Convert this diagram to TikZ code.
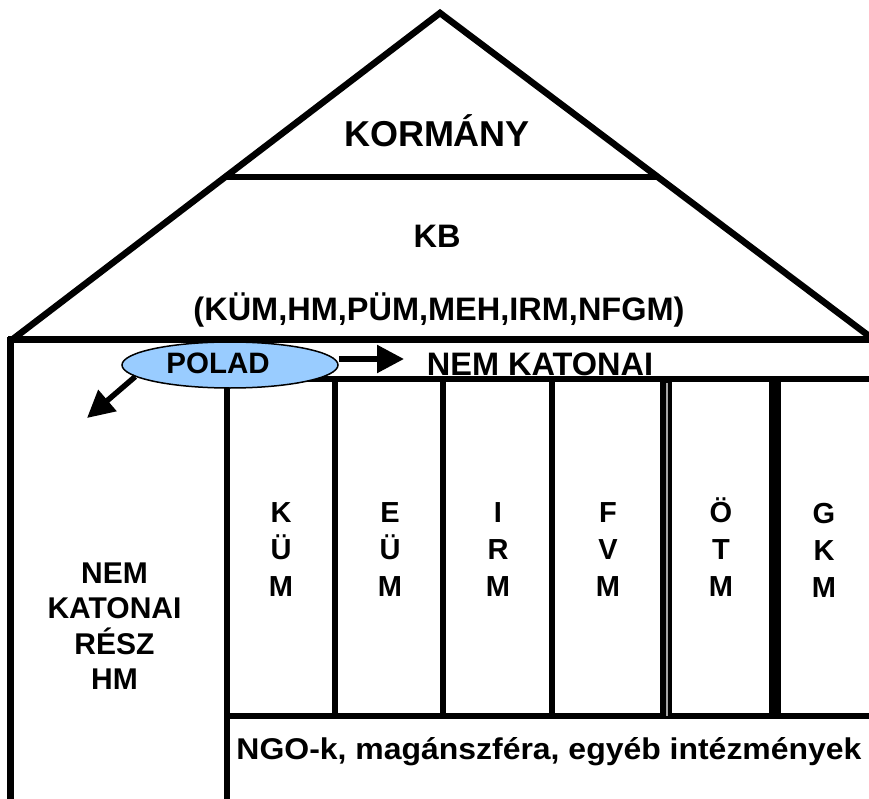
\documentclass[tikz,border=0pt]{standalone}
\usepackage{fontspec}
\setmainfont{Liberation Sans}
\usetikzlibrary{arrows.meta,shapes.geometric}
\definecolor{poladblue}{RGB}{153,204,255}
\begin{document}
\begin{tikzpicture}[x=1pt,y=-1pt,
  wall/.style={line width=6.5pt},
  part/.style={line width=6pt},
  heavy/.style={line width=12pt},
  bigtxt/.style={font=\fontsize{36}{40}\selectfont\bfseries, inner sep=0pt},
  midtxt/.style={font=\fontsize{32.5}{36}\selectfont\bfseries, inner sep=0pt},
  coltxt/.style={font=\fontsize{29}{37}\selectfont\bfseries, inner sep=0pt, align=center},
  sidetxt/.style={font=\fontsize{30}{35.5}\selectfont\bfseries, inner sep=0pt, align=center},
  ngotxt/.style={font=\fontsize{30}{35}\selectfont\bfseries, inner sep=0pt, xscale=1.065},
  arr/.style={line width=5.5pt, -{Triangle[length=27pt,width=27pt]}}]
\useasboundingbox (0,0) rectangle (869,799);
% roof
\draw[wall, line join=miter] (13,339) -- (440,13) -- (869,336);
\draw[part] (227,177) -- (658,177);
\draw[wall] (8,339.5) -- (869,339.5);
% outer left wall
\draw[wall] (10.5,337) -- (10.5,799);
% inner building
\draw[part] (227,379) -- (869,379);
\draw[part] (227,379) -- (227,799);
\draw[part] (227,716) -- (869,716);
\foreach \xx in {335,443,552} {\draw[part] (\xx,379) -- (\xx,716);}
\draw[heavy] (666,379) -- (666,716);
\draw[line width=1.5pt, black!35] (667,383) -- (667,716);
\draw[heavy] (774.5,379) -- (774.5,716);
% texts
\node[bigtxt] (korm) at (437,131) {KORMÁNY};
\node[midtxt] (kb) at (437,236) {KB};
\node[midtxt] (kblist) at (439,310) {(KÜM,HM,PÜM,MEH,IRM,NFGM)};
\node[midtxt] (nemkat) at (540,364) {NEM KATONAI};
\node[coltxt] (kum) at (281,550) {K\\Ü\\M};
\node[coltxt] (eum) at (390,550) {E\\Ü\\M};
\node[coltxt] (irm) at (498,550) {I\\R\\M};
\node[coltxt] (fvm) at (608,550) {F\\V\\M};
\node[coltxt] (otm) at (721,547) {Ö\\T\\M};
\node[coltxt] (gkm) at (824,550) {G\\K\\M};
\node[sidetxt] (side) at (114.5,626) {NEM\\KATONAI\\RÉSZ\\HM};
\node[ngotxt] (ngo) at (549,752) {NGO-k, magánszféra, egyéb intézmények};
% POLAD
\node[ellipse, draw, line width=1.5pt, fill=poladblue, minimum width=216pt, minimum height=46pt, inner sep=0pt] (polad) at (230,365) {};
\node[font=\fontsize{29.5}{35}\selectfont\bfseries, inner sep=0pt] (poladtxt) at (218,363) {POLAD};
\coordinate (tipr) at (404,359);
\coordinate (tipl) at (87,418);
\draw[arr] ([yshift=6pt]polad.east) -- (tipr);
\draw[arr] (polad.187) -- (tipl);
\end{tikzpicture}
\end{document}
